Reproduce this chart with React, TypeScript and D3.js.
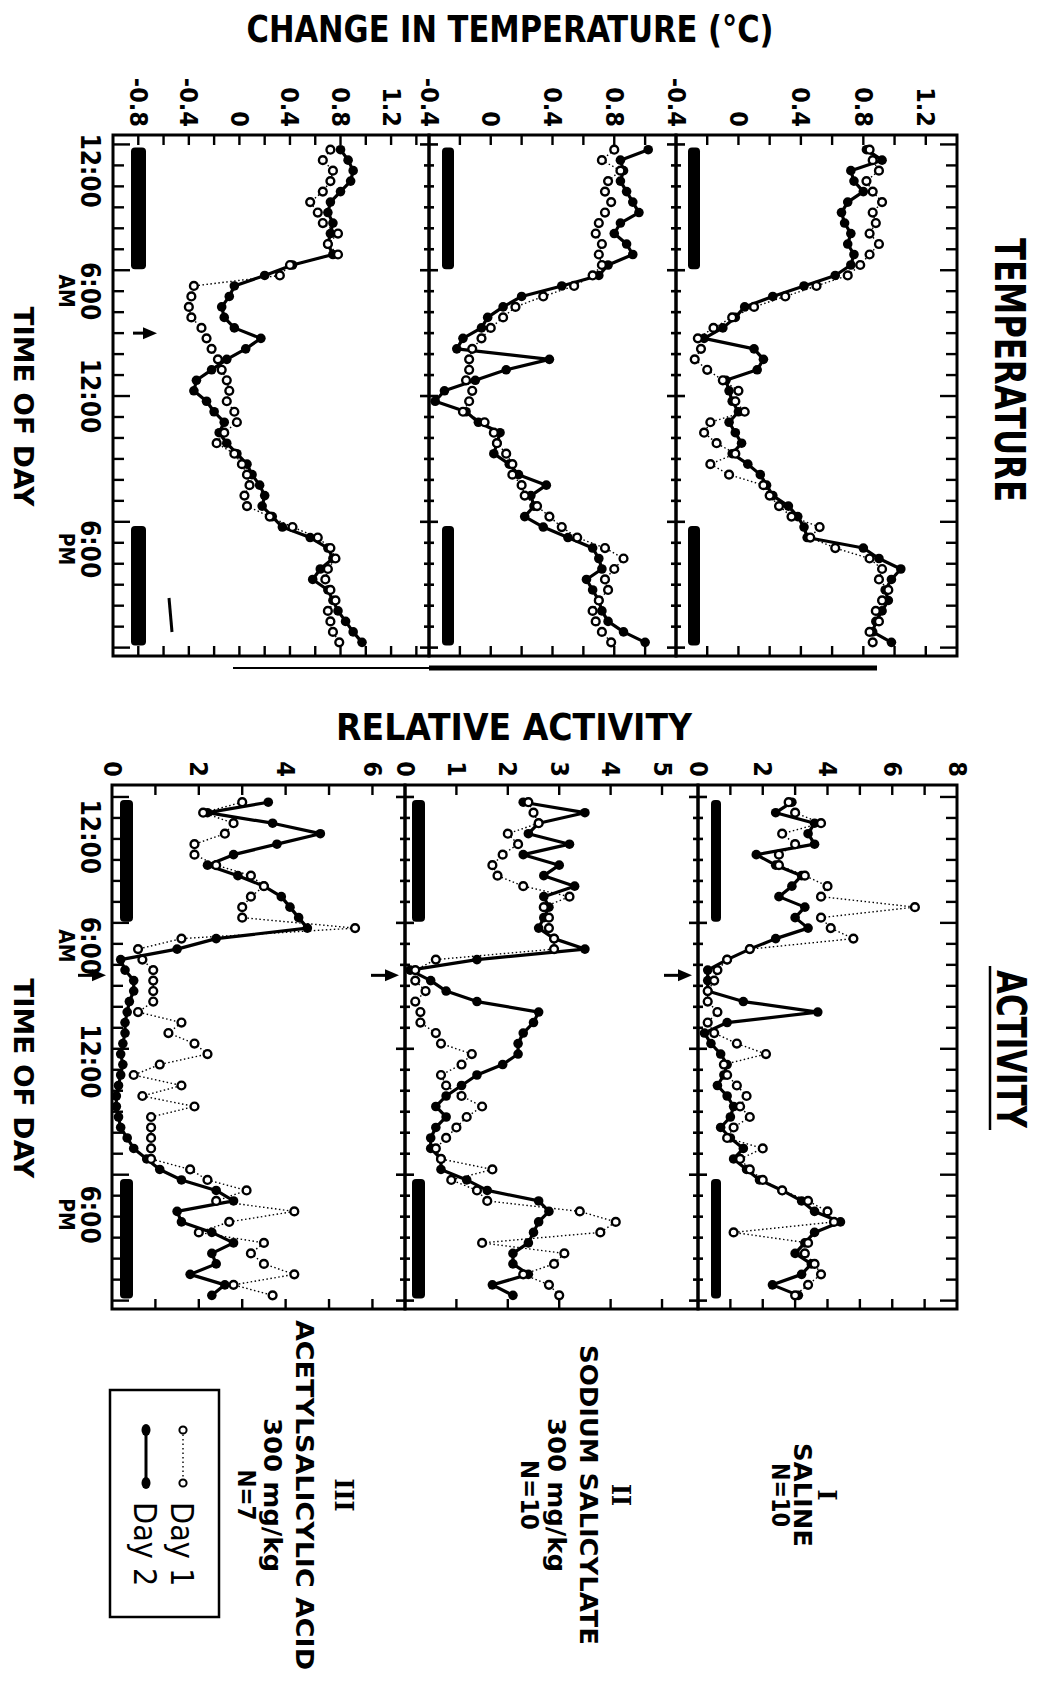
import React from 'react';
import * as d3 from 'd3';

// sampling grid (hours after midnight, 30-min bins)
const hours = d3.range(48).map((i) => 0.25 + i * 0.5);

// ---------- TEMPERATURE (change, °C) ----------
const tempSalineDay1 = [0.84, 0.86, 0.90, 0.82, 0.86, 0.92, 0.86, 0.88, 0.84, 0.90, 0.84, 0.78,
  0.70, 0.50, 0.30, 0.10, -0.04, -0.16, -0.26, -0.24, -0.28, -0.20, -0.10, 0.00,
  -0.02, 0.04, -0.18, -0.22, -0.14, -0.02, -0.18, -0.06, 0.16, 0.20, 0.26, 0.34,
  0.52, 0.46, 0.62, 0.84, 0.92, 0.90, 0.96, 0.92, 0.88, 0.90, 0.84, 0.86];
const tempSalineDay2 = [0.82, 0.92, 0.72, 0.74, 0.80, 0.70, 0.66, 0.68, 0.72, 0.70, 0.74, 0.72,
  0.62, 0.42, 0.22, 0.04, -0.02, -0.10, -0.22, 0.10, 0.16, 0.12, -0.08, -0.06,
  -0.04, 0.00, -0.06, -0.02, 0.02, -0.04, 0.06, 0.14, 0.18, 0.22, 0.32, 0.38,
  0.42, 0.44, 0.80, 0.90, 1.04, 0.98, 0.94, 0.96, 0.92, 0.88, 0.86, 0.98];
const tempSodiumDay1 = [0.80, 0.72, 0.84, 0.76, 0.74, 0.78, 0.74, 0.70, 0.68, 0.72, 0.70, 0.72,
  0.66, 0.54, 0.34, 0.16, 0.08, 0.00, -0.06, -0.12, -0.14, -0.14, -0.16, -0.12,
  -0.14, -0.18, -0.04, 0.02, 0.04, 0.10, 0.14, 0.14, 0.20, 0.22, 0.30, 0.38,
  0.46, 0.56, 0.74, 0.86, 0.80, 0.74, 0.76, 0.70, 0.66, 0.68, 0.72, 0.78];
const tempSodiumDay2 = [1.02, 0.84, 0.86, 0.84, 0.88, 0.92, 0.96, 0.84, 0.80, 0.88, 0.92, 0.76,
  0.70, 0.46, 0.20, 0.08, -0.02, -0.06, -0.18, -0.22, 0.38, 0.10, -0.10, -0.30,
  -0.36, -0.16, -0.08, 0.06, 0.04, 0.02, 0.12, 0.18, 0.36, 0.26, 0.28, 0.22,
  0.34, 0.50, 0.66, 0.70, 0.72, 0.62, 0.66, 0.70, 0.72, 0.76, 0.86, 1.00];
const tempAspirinDay1 = [0.72, 0.66, 0.74, 0.72, 0.66, 0.56, 0.62, 0.66, 0.78, 0.70, 0.78, 0.40,
  0.32, -0.36, -0.38, -0.40, -0.38, -0.30, -0.26, -0.22, -0.17, -0.14, -0.10, -0.08,
  -0.10, -0.04, -0.02, -0.12, -0.18, -0.04, 0.02, 0.06, 0.08, 0.04, 0.06, 0.24,
  0.42, 0.62, 0.72, 0.76, 0.70, 0.68, 0.72, 0.76, 0.70, 0.72, 0.74, 0.79];
const tempAspirinDay2 = [0.80, 0.86, 0.90, 0.88, 0.80, 0.72, 0.70, 0.74, 0.72, 0.70, 0.74, 0.42,
  0.20, -0.04, -0.08, -0.14, -0.12, -0.04, 0.17, 0.05, -0.10, -0.22, -0.34, -0.36,
  -0.26, -0.20, -0.12, -0.16, -0.10, -0.02, 0.06, 0.10, 0.16, 0.20, 0.18, 0.26,
  0.34, 0.56, 0.70, 0.74, 0.64, 0.58, 0.70, 0.74, 0.78, 0.84, 0.90, 0.97];

// ---------- RELATIVE ACTIVITY ----------
const actSalineDay1 = [2.8, 3.0, 3.8, 2.6, 3.0, 2.5, 2.5, 3.3, 4.0, 3.8, 6.7, 3.8,
  4.1, 4.8, 1.6, 0.9, 0.6, 0.5, 0.3, 0.3, 0.6, 0.3, 0.5, 1.2,
  2.1, 0.8, 0.9, 1.2, 1.5, 1.3, 1.6, 1.1, 0.9, 2.0, 1.3, 1.6,
  2.0, 2.6, 3.4, 4.0, 4.2, 1.1, 3.4, 3.3, 3.6, 3.8, 3.4, 3.0];
const actSalineDay2 = [2.9, 2.4, 3.6, 3.4, 3.6, 1.8, 2.4, 3.2, 2.9, 2.5, 3.3, 3.0,
  3.4, 2.4, 1.6, 0.9, 0.3, 0.3, 0.3, 1.4, 3.7, 0.9, 0.2, 0.4,
  0.7, 0.9, 0.8, 0.6, 0.9, 1.1, 1.0, 0.7, 1.0, 1.4, 1.1, 1.5,
  1.9, 2.6, 3.2, 3.6, 4.4, 3.6, 3.3, 3.0, 3.5, 3.2, 2.3, 3.1];
const actSodiumDay1 = [2.4, 2.5, 2.6, 2.0, 2.2, 1.9, 1.7, 1.8, 2.3, 3.2, 2.7, 2.8,
  2.8, 2.9, 2.9, 0.6, 0.2, 0.2, 0.4, 0.2, 0.3, 0.3, 0.6, 0.7,
  1.3, 1.1, 0.7, 0.8, 1.1, 1.5, 1.2, 1.0, 0.8, 0.6, 0.7, 1.7,
  0.9, 1.4, 1.6, 3.4, 4.1, 3.8, 1.5, 3.1, 2.9, 2.3, 2.8, 3.0];
const actSodiumDay2 = [2.3, 3.5, 2.6, 2.4, 3.2, 2.3, 3.0, 2.7, 3.3, 2.7, 2.8, 2.7,
  2.6, 2.9, 3.5, 1.4, 0.1, 0.5, 0.8, 1.4, 2.6, 2.5, 2.3, 2.2,
  2.2, 1.9, 1.4, 1.1, 0.8, 0.6, 0.8, 0.6, 0.5, 0.5, 0.7, 0.7,
  1.2, 1.6, 2.6, 2.8, 2.6, 2.5, 2.4, 2.1, 2.1, 2.4, 1.7, 2.1];
const actAspirinDay1 = [3.0, 2.1, 2.8, 2.6, 1.9, 1.9, 2.4, 3.2, 3.5, 3.2, 3.0, 3.0,
  5.6, 1.6, 0.6, 0.7, 0.95, 0.95, 0.95, 0.95, 0.6, 1.6, 1.3, 1.9,
  2.2, 1.1, 0.5, 1.6, 0.7, 1.9, 0.9, 0.9, 0.9, 0.9, 0.9, 1.8,
  2.2, 3.1, 2.4, 4.2, 2.7, 2.0, 3.5, 3.2, 3.5, 4.2, 2.8, 3.7];
const actAspirinDay2 = [3.6, 2.2, 3.7, 4.8, 3.8, 2.8, 2.2, 2.9, 3.5, 3.9, 4.1, 4.3,
  4.5, 2.4, 1.5, 0.2, 0.3, 0.5, 0.5, 0.4, 0.35, 0.3, 0.3, 0.25,
  0.2, 0.25, 0.2, 0.15, 0.1, 0.1, 0.15, 0.2, 0.35, 0.5, 0.8, 1.1,
  1.6, 2.4, 2.8, 1.5, 1.6, 2.3, 2.8, 2.3, 2.4, 1.8, 2.6, 2.3];

// ---------- axes / annotations ----------
const tempDomains = [[-0.4, 1.4], [-0.4, 1.2], [-1.0, 1.5]];
const tempTickLabels = [[-0.4, 0, 0.4, 0.8, 1.2], [-0.4, 0, 0.4, 0.8], [-0.8, -0.4, 0, 0.4, 0.8, 1.2]];
const actDomains = [[0, 8], [0, 5.7], [0, 6.75]];
const actTickLabels = [[0, 2, 4, 6, 8], [0, 1, 2, 3, 4, 5], [0, 2, 4, 6]];
const darkPeriods = [[0.15, 5.95], [18.2, 23.9]];
const timeLabelText = [
  { text: '12:00', sub: '' },
  { text: '6:00', sub: 'AM' },
  { text: '12:00', sub: '' },
  { text: '6:00', sub: 'PM' },
];
const tempTimeLabelHours = [1.25, 7.0, 12.0, 19.3];
const actTimeLabelHours = [1.9, 7.1, 12.6, 19.9];
const groupLabels = [
  ['I', 'SALINE', 'N=10'],
  ['II', 'SODIUM SALICYLATE', '300 mg/kg', 'N=10'],
  ['III', 'ACETYLSALICYLIC ACID', '300 mg/kg', 'N=7'],
];
const injectionHourTemp = 9.0;
const injectionHourAct = 8.5;

const tempSeries = [
  [tempSalineDay1, tempSalineDay2],
  [tempSodiumDay1, tempSodiumDay2],
  [tempAspirinDay1, tempAspirinDay2],
];
const actSeries = [
  [actSalineDay1, actSalineDay2],
  [actSodiumDay1, actSodiumDay2],
  [actAspirinDay1, actAspirinDay2],
];

// ---------- layout (un-rotated frame: 1681 wide x 1042 tall) ----------
const SANS = "'DejaVu Sans Condensed', 'DejaVu Sans', sans-serif";
const SERIF = "'DejaVu Serif', 'Liberation Serif', serif";
const tempRows = [[85, 366], [366, 613], [613, 929]];
const actRows = [[85, 344], [344, 637], [637, 930]];
const tempBarGap = [12, 13, 18];
const actBarGap = [13, 7, 8];
const groupBaselines = [[224, 248, 270], [430, 462, 494, 521], [707, 746, 778, 804]];
const groupLengths = [[0, 104, 64], [0, 300, 154, 70], [0, 350, 154, 0]];

const fmtTemp = (v: number) => (v === 0 ? '0' : (v < 0 ? '-' : '') + Math.abs(v).toFixed(1));
const fmtAct = (v: number) => String(v);

function tickValues(domain: number[], step: number) {
  const n = Math.floor((domain[1] - domain[0]) / step + 1e-6);
  return d3.range(n + 1).map((i) => +(domain[0] + i * step).toFixed(4))
    .filter((v) => v > domain[0] + 1e-6 && v < domain[1] - 1e-6);
}

function Section(props: {
  xs: d3.ScaleLinear<number, number>;
  rows: number[][];
  domains: number[][];
  step: number;
  labels: number[][];
  fmt: (v: number) => string;
  series: number[][][];
  barGap: number[];
  barW: number[];
  arrows: { row: number; h: number; tip: number; tail: number }[];
  keyp: string;
}) {
  const { xs, rows, domains, step, labels, fmt, series, barGap, barW, arrows, keyp } = props;
  const [x0, x1] = xs.range();
  const hourTicks = d3.range(0, 25);
  return (
    <g>
      {rows.map(([top, bottom], p) => {
        const ys = d3.scaleLinear().domain(domains[p]).range([bottom, top]);
        const line = d3.line<number>().x((_, i) => xs(hours[i])).y((d) => ys(d));
        const [d1, d2] = series[p];
        const isTop = p === 0;
        const isBottom = p === rows.length - 1;
        return (
          <g key={keyp + p}>
            {darkPeriods.map(([a, b], k) => (
              <rect key={k} x={xs(a)} width={xs(b) - xs(a)} y={bottom - barGap[p] - barW[p]}
                height={barW[p]} rx={4} fill="#000" />
            ))}
            <rect x={x0} y={top} width={x1 - x0} height={bottom - top} fill="none" stroke="#000" strokeWidth={3} />
            {tickValues(domains[p], step).map((v) => (
              <g key={'vt' + v}>
                <line x1={x0} x2={x0 + 10} y1={ys(v)} y2={ys(v)} stroke="#000" strokeWidth={2.4} />
                <line x1={x1} x2={x1 - 10} y1={ys(v)} y2={ys(v)} stroke="#000" strokeWidth={2.4} />
              </g>
            ))}
            {hourTicks.map((h) => {
              const major = h % 6 === 0;
              const x = xs(h);
              return (
                <g key={'ht' + h}>
                  {isTop && <line x1={x} x2={x} y1={top} y2={top + (major ? 17 : 11)} stroke="#000" strokeWidth={2.4} />}
                  {isBottom ? (
                    <line x1={x} x2={x} y1={bottom} y2={bottom - (major ? 17 : 11)} stroke="#000" strokeWidth={2.4} />
                  ) : (
                    <line x1={x} x2={x} y1={bottom - (major ? 9 : 5)} y2={bottom + (major ? 9 : 5)} stroke="#000" strokeWidth={2.6} />
                  )}
                </g>
              );
            })}
            {labels[p].map((v) => (
              <text key={'vl' + v} x={x0 - 8} y={ys(v)} textAnchor="end" dominantBaseline="central"
                fontFamily={SANS} fontWeight={700} fontStretch="condensed" fontSize={25}>{fmt(v)}</text>
            ))}
            <path d={line(d2) || ''} fill="none" stroke="#000" strokeWidth={3.2} strokeLinejoin="round" />
            <path d={line(d1) || ''} fill="none" stroke="#000" strokeWidth={1.4} strokeDasharray="1.5,2.5" />
            {d2.map((v, i) => (
              <circle key={'f' + i} cx={xs(hours[i])} cy={ys(v)} r={4.8} fill="#000" />
            ))}
            {d1.map((v, i) => (
              <circle key={'o' + i} cx={xs(hours[i])} cy={ys(v)} r={3.9} fill="#fff" stroke="#000" strokeWidth={2.4} />
            ))}
          </g>
        );
      })}
      {arrows.map((a, k) => {
        const x = xs(a.h);
        return (
          <g key={'ar' + k}>
            <line x1={x} x2={x} y1={a.tail} y2={a.tip + 10} stroke="#000" strokeWidth={3} />
            <path d={`M${x},${a.tip} L${x - 6},${a.tip + 14} L${x + 6},${a.tip + 14} Z`} fill="#000" />
          </g>
        );
      })}
    </g>
  );
}

function TimeAxisLabels({ xs, at, titleAt }: { xs: d3.ScaleLinear<number, number>; at: number[]; titleAt: number }) {
  return (
    <g fontFamily={SANS} fontWeight={700} fontStretch="condensed">
      {timeLabelText.map((t, k) => (
        <g key={k}>
          <text x={xs(at[k])} y={961} textAnchor="middle" fontSize={26}>{t.text}</text>
          {t.sub && <text x={xs(at[k])} y={983} textAnchor="middle" fontSize={21}>{t.sub}</text>}
        </g>
      ))}
      <text x={xs(titleAt)} y={1028} textAnchor="middle" fontSize={27} textLength={200} lengthAdjust="spacingAndGlyphs">TIME OF DAY</text>
    </g>
  );
}

export default function App() {
  const W = 1042;
  const H = 1681;
  const tx = d3.scaleLinear().domain([-0.45, 24.4]).range([135, 656]);
  const ax = d3.scaleLinear().domain([-0.57, 24.4]).range([785, 1309]);

  return (
    <svg width={W} height={H} style={{ position: 'absolute', left: 0, top: 0, background: '#fff' }}>
      <rect x={0} y={0} width={W} height={H} fill="#fff" />
      <g transform={`translate(${W},0) rotate(90)`}>
        <text x={370} y={47} textAnchor="middle" fontFamily={SANS} fontWeight={700} fontStretch="condensed"
          fontSize={42} textLength={264} lengthAdjust="spacingAndGlyphs">TEMPERATURE</text>
        <text x={1049} y={45} textAnchor="middle" fontFamily={SANS} fontWeight={700} fontStretch="condensed"
          fontSize={40} textLength={158} lengthAdjust="spacingAndGlyphs">ACTIVITY</text>
        <line x1={966} x2={1130} y1={52} y2={52} stroke="#000" strokeWidth={2.5} />

        <text transform="translate(42,532) rotate(-90)" textAnchor="middle" fontFamily={SANS} fontWeight={700}
          fontStretch="condensed" fontSize={38} textLength={527} lengthAdjust="spacingAndGlyphs">CHANGE IN TEMPERATURE (°C)</text>
        <text transform="translate(740,528) rotate(-90)" textAnchor="middle" fontFamily={SANS} fontWeight={700}
          fontStretch="condensed" fontSize={38} textLength={356} lengthAdjust="spacingAndGlyphs">RELATIVE  ACTIVITY</text>

        <Section xs={tx} rows={tempRows} domains={tempDomains} step={0.2} labels={tempTickLabels} fmt={fmtTemp}
          series={tempSeries} barGap={tempBarGap} barW={[12, 12, 15]} keyp="t"
          arrows={[{ row: 2, h: injectionHourTemp, tip: 885, tail: 909 }]} />
        <Section xs={ax} rows={actRows} domains={actDomains} step={1} labels={actTickLabels} fmt={fmtAct}
          series={actSeries} barGap={actBarGap} barW={[10, 13, 13]} keyp="a"
          arrows={actRows.map(([, b], r) => ({ row: r, h: injectionHourAct, tip: b + 6, tail: b + 34 }))} />

        <TimeAxisLabels xs={tx} at={tempTimeLabelHours} titleAt={12.5} />
        <TimeAxisLabels xs={ax} at={actTimeLabelHours} titleAt={13.4} />

        {/* scan rule under the temperature panels */}
        <line x1={668} x2={668} y1={165} y2={613} stroke="#000" strokeWidth={5} />
        <line x1={668} x2={668} y1={613} y2={809} stroke="#000" strokeWidth={2} />
        <line x1={598} x2={632} y1={873} y2={870} stroke="#000" strokeWidth={3} />

        {groupLabels.map((lines, g) => (
          <g key={'gl' + g}>
            {lines.map((s, k) => (
              <text key={k} x={1495} y={groupBaselines[g][k]} textAnchor="middle"
                fontFamily={k === 0 ? SERIF : SANS} fontWeight={700} fontStretch="condensed"
                fontSize={k === 0 ? 26 : 24}
                {...(groupLengths[g][k] ? { textLength: groupLengths[g][k], lengthAdjust: 'spacingAndGlyphs' } : {})}>
                {s}
              </text>
            ))}
          </g>
        ))}

        {/* legend */}
        <rect x={1390} y={823} width={227} height={109} fill="none" stroke="#000" strokeWidth={2.5} />
        <line x1={1430} x2={1483} y1={859} y2={859} stroke="#000" strokeWidth={1.4} strokeDasharray="1.5,3" />
        <circle cx={1430} cy={859} r={3.6} fill="#fff" stroke="#000" strokeWidth={2} />
        <circle cx={1483} cy={859} r={3.6} fill="#fff" stroke="#000" strokeWidth={2} />
        <text x={1502} y={871} fontFamily={SANS} fontSize={32}>Day 1</text>
        <line x1={1430} x2={1483} y1={896} y2={896} stroke="#000" strokeWidth={3} />
        <ellipse cx={1430} cy={896} rx={6} ry={4.5} fill="#000" />
        <ellipse cx={1483} cy={896} rx={6} ry={4.5} fill="#000" />
        <text x={1502} y={908} fontFamily={SANS} fontSize={32}>Day 2</text>
      </g>
    </svg>
  );
}
